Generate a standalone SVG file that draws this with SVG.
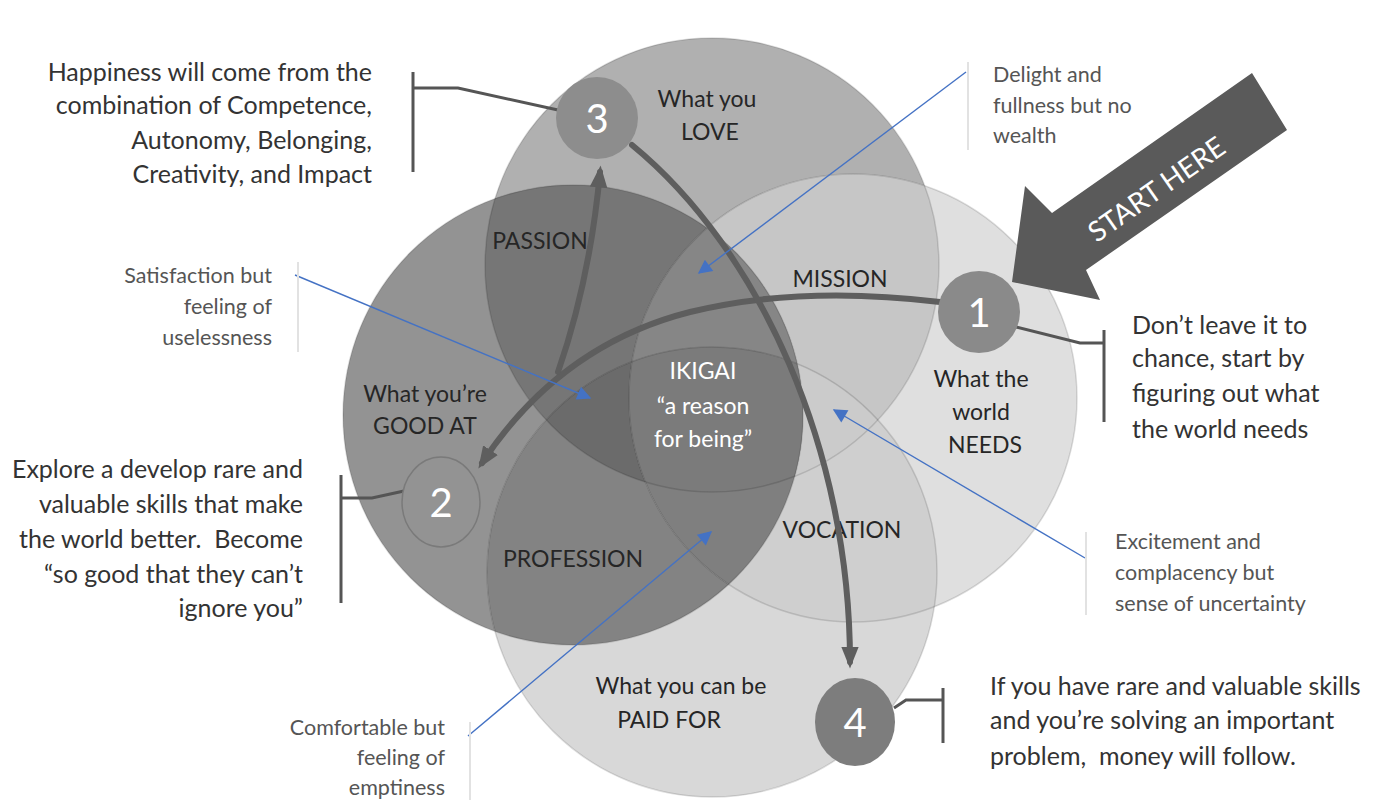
<svg xmlns="http://www.w3.org/2000/svg" width="1376" height="800" viewBox="0 0 1376 800">
  <defs>
    <style>
      text { font-family: Lato, "Liberation Sans", sans-serif; }
      .note { font-size: 25px; fill: #333333; }
      .small { font-size: 21.5px; fill: #555555; }
      .lbl { font-size: 23px; fill: #262626; text-anchor: middle; }
      .ik { font-size: 23px; fill: #ffffff; text-anchor: middle; }
      .num { font-size: 40px; fill: #ffffff; text-anchor: middle; }
      .ring { fill: none; stroke: #000000; stroke-opacity: 0.13; stroke-width: 1.5; }
      .flow { fill: none; stroke: #5e5e5e; stroke-width: 6; stroke-linecap: round; }
      .blue { fill: none; stroke: #4472c4; stroke-width: 1.4; }
      .lead { fill: none; stroke: #555555; stroke-width: 3; }
      .divider { stroke: #e2e2e2; stroke-width: 2; }
    </style>
    <clipPath id="cL"><circle cx="712" cy="265" r="227"/></clipPath>
    <clipPath id="cG"><circle cx="573" cy="415" r="230"/></clipPath>
    <clipPath id="cW"><circle cx="853" cy="398" r="224"/></clipPath>
    <clipPath id="cP"><circle cx="712" cy="572" r="225"/></clipPath>
    <marker id="grayHead" viewBox="0 0 10 10" refX="7" refY="5" markerWidth="22" markerHeight="22" markerUnits="userSpaceOnUse" orient="auto">
      <path d="M0,1 L10,5 L0,9 z" fill="#5e5e5e"/>
    </marker>
    <marker id="blueHead" viewBox="0 0 10 10" refX="9" refY="5" markerWidth="16" markerHeight="14" markerUnits="userSpaceOnUse" orient="auto">
      <path d="M0,0 L10,5 L0,10 z" fill="#4472c4"/>
    </marker>
  </defs>

  <rect width="1376" height="800" fill="#ffffff"/>

  <!-- Venn circles: single areas -->
  <g id="circles">
    <circle id="love" cx="712" cy="265" r="227" fill="#b0b0b0"/>
    <circle id="good" cx="573" cy="415" r="230" fill="#939393"/>
    <circle id="world" cx="853" cy="398" r="224" fill="#dfdfdf"/>
    <circle id="paid" cx="712" cy="572" r="225" fill="#d8d8d8"/>

    <!-- two-way overlaps -->
    <g clip-path="url(#cL)"><circle cx="573" cy="415" r="230" fill="#767676"/></g>
    <g clip-path="url(#cL)"><circle cx="853" cy="398" r="224" fill="#c6c6c6"/></g>
    <g clip-path="url(#cL)"><circle cx="712" cy="572" r="225" fill="#a0a0a0"/></g>
    <g clip-path="url(#cG)"><circle cx="853" cy="398" r="224" fill="#8a8a8a"/></g>
    <g clip-path="url(#cG)"><circle cx="712" cy="572" r="225" fill="#838383"/></g>
    <g clip-path="url(#cW)"><circle cx="712" cy="572" r="225" fill="#cfcfcf"/></g>

    <!-- three-way overlaps -->
    <g clip-path="url(#cL)"><g clip-path="url(#cG)"><circle cx="853" cy="398" r="224" fill="#868686"/></g></g>
    <g clip-path="url(#cL)"><g clip-path="url(#cG)"><circle cx="712" cy="572" r="225" fill="#6b6b6b"/></g></g>
    <g clip-path="url(#cL)"><g clip-path="url(#cW)"><circle cx="712" cy="572" r="225" fill="#cbcbcb"/></g></g>
    <g clip-path="url(#cG)"><g clip-path="url(#cW)"><circle cx="712" cy="572" r="225" fill="#7f7f7f"/></g></g>

    <!-- centre: all four -->
    <g clip-path="url(#cL)"><g clip-path="url(#cG)"><g clip-path="url(#cW)"><circle cx="712" cy="572" r="225" fill="#7b7b7b"/></g></g></g>

    <circle class="ring" cx="712" cy="265" r="227"/>
    <circle class="ring" cx="573" cy="415" r="230"/>
    <circle class="ring" cx="853" cy="398" r="224"/>
    <circle class="ring" cx="712" cy="572" r="225"/>
  </g>

  <!-- region labels -->
  <g id="labels">
    <text class="lbl" x="707" y="107">What you</text>
    <text class="lbl" x="710" y="140">LOVE</text>
    <text class="lbl" x="540" y="249">PASSION</text>
    <text class="lbl" x="840" y="287">MISSION</text>
    <text class="lbl" x="425" y="402">What you’re</text>
    <text class="lbl" x="425" y="434">GOOD AT</text>
    <text class="lbl" x="981" y="387">What the</text>
    <text class="lbl" x="981" y="420">world</text>
    <text class="lbl" x="985" y="453">NEEDS</text>
    <text class="lbl" x="842" y="538">VOCATION</text>
    <text class="lbl" x="573" y="567">PROFESSION</text>
    <text class="lbl" x="681" y="694">What you can be</text>
    <text class="lbl" x="669" y="728">PAID FOR</text>
    <text class="ik" x="703" y="379">IKIGAI</text>
    <text class="ik" x="703" y="414">“a reason</text>
    <text class="ik" x="703" y="447">for being”</text>
  </g>

  <!-- connectors -->
  <g id="connectors">
    <path class="flow" d="M940 302 Q800 285 690 312 Q560 345 482 463" marker-end="url(#grayHead)"/>
    <path class="flow" d="M558 372 Q590 280 600 172" marker-end="url(#grayHead)"/>
    <path class="flow" d="M632 145 C760 250 850 450 850 662" marker-end="url(#grayHead)"/>

    <path class="blue" d="M966 72 L699 273" marker-end="url(#blueHead)"/>
    <path class="blue" d="M295 275 L590 398" marker-end="url(#blueHead)"/>
    <path class="blue" d="M1085 558 L834 410" marker-end="url(#blueHead)"/>
    <path class="blue" d="M468 736 L711 532" marker-end="url(#blueHead)"/>

    <path class="lead" d="M558 110 L458 88 L413 88"/>
    <line class="lead" x1="413" y1="72" x2="413" y2="172"/>
    <path class="lead" d="M1016 327 L1080 343 L1104 343"/>
    <line class="lead" x1="1104" y1="330" x2="1104" y2="422"/>
    <path class="lead" d="M404 491 L372 498 L341 498"/>
    <line class="lead" x1="341" y1="475" x2="341" y2="603"/>
    <path class="lead" d="M894 708 L906 700 L943 700"/>
    <line class="lead" x1="943" y1="688" x2="943" y2="743"/>

    <line class="divider" x1="968" y1="62" x2="968" y2="150"/>
    <line class="divider" x1="298" y1="262" x2="298" y2="352"/>
    <line class="divider" x1="1086" y1="532" x2="1086" y2="615"/>
    <line class="divider" x1="470" y1="722" x2="470" y2="800"/>
  </g>

  <!-- numbered steps -->
  <g id="step1">
    <circle cx="979" cy="312" r="41" fill="#8a8a8a"/>
    <text class="num" x="979" y="327">1</text>
  </g>
  <g id="step2">
    <ellipse cx="441" cy="502" rx="39" ry="45" fill="#939393" stroke="#7a7a7a" stroke-width="1.5"/>
    <text class="num" x="441" y="517">2</text>
  </g>
  <g id="step3">
    <circle cx="597" cy="118" r="41" fill="#8d8d8d"/>
    <text class="num" x="597" y="133">3</text>
  </g>
  <g id="step4">
    <ellipse cx="855" cy="722" rx="40" ry="44" fill="#7d7d7d"/>
    <text class="num" x="855" y="737">4</text>
  </g>

  <!-- start marker -->
  <g id="start-here">
    <polygon points="1012,282 1025,186 1052,213 1252,73 1287,130 1086,270 1100,300" fill="#5a5a5a"/>
    <text x="1157" y="199" transform="rotate(-35 1157 190)" text-anchor="middle" font-size="28" fill="#ffffff">START HERE</text>
  </g>

  <!-- notes -->
  <g id="note-happiness" class="note" text-anchor="end">
    <text x="372" y="81">Happiness will come from the</text>
    <text x="372" y="114">combination of Competence,</text>
    <text x="372" y="149">Autonomy, Belonging,</text>
    <text x="372" y="183">Creativity, and Impact</text>
  </g>
  <g id="note-satisfaction" class="small" text-anchor="end">
    <text x="272" y="283">Satisfaction but</text>
    <text x="272" y="314">feeling of</text>
    <text x="272" y="345">uselessness</text>
  </g>
  <g id="note-explore" class="note" text-anchor="end">
    <text x="303" y="478">Explore a develop rare and</text>
    <text x="303" y="513">valuable skills that make</text>
    <text x="303" y="548" xml:space="preserve">the world better.  Become</text>
    <text x="303" y="583">“so good that they can’t</text>
    <text x="303" y="617">ignore you”</text>
  </g>
  <g id="note-comfortable" class="small" text-anchor="end">
    <text x="445" y="735">Comfortable but</text>
    <text x="445" y="765">feeling of</text>
    <text x="445" y="795">emptiness</text>
  </g>
  <g id="note-delight" class="small">
    <text x="993" y="82">Delight and</text>
    <text x="993" y="113">fullness but no</text>
    <text x="993" y="143">wealth</text>
  </g>
  <g id="note-start" class="note">
    <text x="1132" y="334">Don’t leave it to</text>
    <text x="1132" y="367">chance, start by</text>
    <text x="1132" y="402">figuring out what</text>
    <text x="1132" y="438">the world needs</text>
  </g>
  <g id="note-excitement" class="small">
    <text x="1115" y="549">Excitement and</text>
    <text x="1115" y="580">complacency but</text>
    <text x="1115" y="611">sense of uncertainty</text>
  </g>
  <g id="note-money" class="note">
    <text x="990" y="695">If you have rare and valuable skills</text>
    <text x="990" y="729">and you’re solving an important</text>
    <text x="990" y="765" xml:space="preserve">problem,  money will follow.</text>
  </g>
</svg>
